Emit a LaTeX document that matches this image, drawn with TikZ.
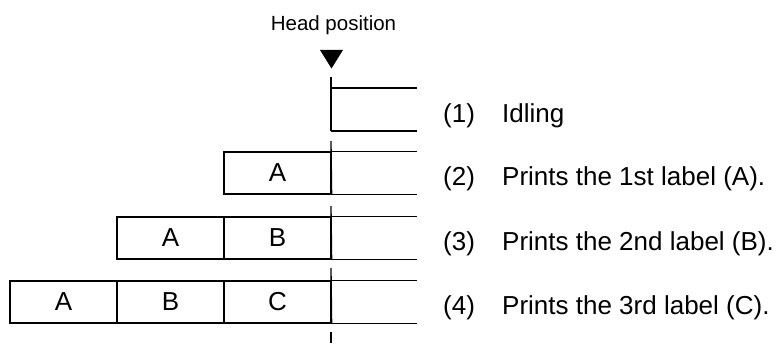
\documentclass[tikz,border=0pt]{standalone}
\usepackage{fontspec}
\setmainfont{Liberation Sans}
\begin{document}
\begin{tikzpicture}[x=1pt,y=-1pt,
  ln/.style={line width=1.3pt},
  lbox/.style={draw, line width=1.3pt, minimum width=107pt, minimum height=42pt, inner sep=0pt, font=\fontsize{26}{30}\selectfont},
  txt/.style={anchor=base west, inner sep=0pt, font=\fontsize{26}{30}\selectfont},
  headtxt/.style={anchor=base, inner sep=0pt, font=\fontsize{20.5}{24}\selectfont}]
\useasboundingbox (0,0) rectangle (779,345);

% head
\node[headtxt] (head) at (333.5,31) {Head position};
\fill (320,50) -- (343,50) -- (331.5,68.5) -- cycle;

% row 1
\coordinate (r1t) at (331,88);
\coordinate (r1b) at (331,131);
\coordinate (r1e) at (417,109.5);
\draw[ln] (331,77) -- (r1b);
\draw[ln] (r1t) -- (r1t -| r1e);
\draw[ln] (r1b) -- (r1b -| r1e);
\node[txt] (n1) at (443,122) {(1)};
\node[txt] (t1) at (502,122) {Idling};

% row 2
\node[lbox] (r2a) at (277.5,173) {A};
\coordinate (r2e) at (417,173);
\draw[ln] (331,141) -- (r2a.south east);
\draw[ln] (r2a.north east) -- (r2a.north east -| r2e);
\draw[ln] (r2a.south east) -- (r2a.south east -| r2e);
\node[txt] (n2) at (443,185.5) {(2)};
\node[txt] (t2) at (502,185.5) {Prints the 1st label (A).};

% row 3
\node[lbox] (r3a) at (170.5,238) {A};
\node[lbox] (r3b) at (277.5,238) {B};
\coordinate (r3e) at (417,238);
\draw[ln] (331,206) -- (r3b.south east);
\draw[ln] (r3b.north east) -- (r3b.north east -| r3e);
\draw[ln] (r3b.south east) -- (r3b.south east -| r3e);
\node[txt] (n3) at (443,250.5) {(3)};
\node[txt] (t3) at (502,250.5) {Prints the 2nd label (B).};

% row 4
\node[lbox] (r4a) at (63.5,302) {A};
\node[lbox] (r4b) at (170.5,302) {B};
\node[lbox] (r4c) at (277.5,302) {C};
\coordinate (r4e) at (417,302);
\draw[ln] (331,268) -- (r4c.south east);
\draw[ln] (r4c.north east) -- (r4c.north east -| r4e);
\draw[ln] (r4c.south east) -- (r4c.south east -| r4e);
\draw[ln] (331,332) -- (331,343);
\node[txt] (n4) at (443,314.5) {(4)};
\node[txt] (t4) at (502,314.5) {Prints the 3rd label (C).};
\end{tikzpicture}
\end{document}
